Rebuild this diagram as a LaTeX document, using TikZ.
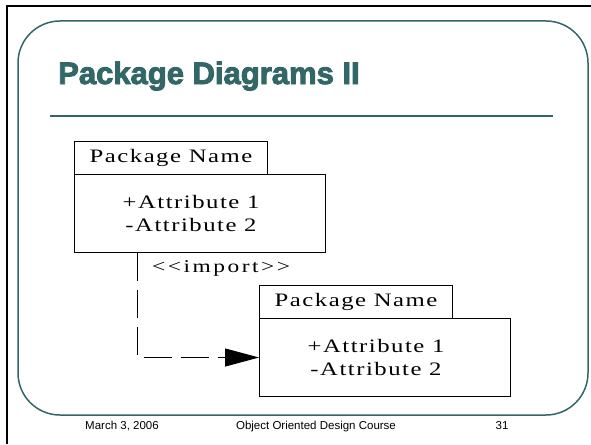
\documentclass[tikz,border=0pt]{standalone}
\usepackage{fontspec}
\setmainfont{Liberation Sans}
\newfontfamily\titlefont[FakeBold=3]{Liberation Sans Bold}
\newfontfamily\umlfont[FakeStretch=1.3,LetterSpace=8]{Liberation Serif}
\newfontfamily\stereofont[FakeStretch=1.3,LetterSpace=14]{Liberation Serif}
\usepackage{tikz}
\usetikzlibrary{arrows.meta}
\definecolor{slideteal}{RGB}{51,102,102}
\tikzset{
	pkgtab/.style={draw, line width=1pt, minimum width=193pt, minimum height=33pt, inner sep=0pt, anchor=north west, font=\umlfont\fontsize{19}{22}\selectfont},
	pkgbody/.style={draw, line width=1pt, minimum width=251pt, minimum height=78pt, inner sep=0pt, anchor=north west},
	attrtext/.style={align=center, inner sep=0pt, font=\umlfont\fontsize{19}{23}\selectfont},
	importline/.style={line width=1pt, dash pattern=on 28pt off 9pt, -{Triangle[length=34pt,width=18pt]}},
	footer/.style={anchor=base, inner sep=0pt, font=\fontsize{11.5}{13}\selectfont}
}

\begin{document}
\begin{tikzpicture}[x=1pt, y=-1pt]
			%%%%% START %%%%%
			\useasboundingbox (0, 0) rectangle (591, 444);
			
			\draw[line width=2pt] (7, 444) -- (7, 6) -- (591, 6);
			\draw[line width=1.5pt, color=slideteal, rounded corners=42pt] (18, 21) rectangle (588, 415);
			
			\node[anchor=base west, inner sep=0pt, color=slideteal, font=\titlefont\fontsize{31}{36}\selectfont] (title) at (58, 84) {Package Diagrams II};
			\draw[line width=2pt, color=slideteal] (50, 116) -- (553, 116);
			
			% first package
			\node[pkgtab] (tabA) at (74, 141) {Package Name};
			\node[pkgbody] (bodyA) at (74, 174) {};
			\node[attrtext] (attrA) at ([xshift=-9pt]bodyA.center) {+Attribute 1\\-Attribute 2};
			
			% second package
			\node[pkgtab] (tabB) at (259, 285) {Package Name};
			\node[pkgbody] (bodyB) at (259, 318) {};
			\node[attrtext] (attrB) at ([xshift=-9pt]bodyB.center) {+Attribute 1\\-Attribute 2};
			
			% import dependency
			\draw[importline] ([xshift=63pt]bodyA.south west) |- (bodyB.west);
			\node[anchor=west, inner sep=0pt, font=\stereofont\fontsize{18}{20}\selectfont] (imp) at (152, 268) {\textless\textless import\textgreater\textgreater};
			
			\node[footer] (date) at (122, 429) {March 3, 2006};
			\node[footer] (course) at (316, 429) {Object Oriented Design Course};
			\node[footer] (page) at (502, 429) {31};
			
			%%%%% END %%%%%
\end{tikzpicture}
\end{document}
